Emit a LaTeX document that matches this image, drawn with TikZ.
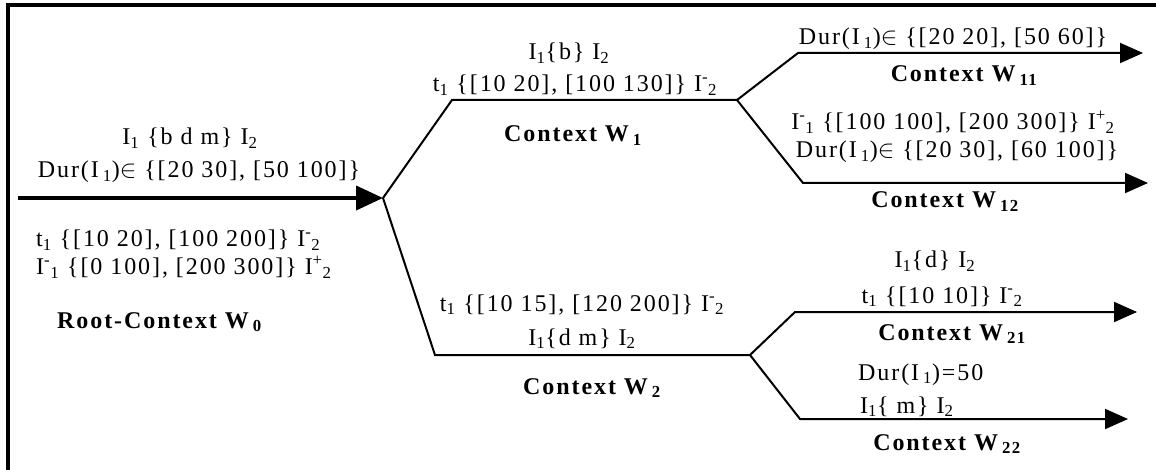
\documentclass[tikz,border=0pt]{standalone}
\usepackage{fontspec}
\setmainfont{Liberation Serif}[LetterSpace=8]
\usetikzlibrary{arrows.meta}
\newcommand{\sbs}[1]{\textsubscript{#1}}
\newcommand{\sps}[1]{\textsuperscript{#1}}
\begin{document}
\begin{tikzpicture}[x=1pt,y=-1pt,
 lbl/.style={font=\fontsize{24}{26}\selectfont, inner sep=0pt, anchor=base},
 ctx/.style={lbl, font=\fontsize{24}{26}\selectfont\bfseries},
 wire/.style={line width=2pt},
 tip/.style={wire, -{Triangle[length=23pt,width=20pt]}},
 roottip/.style={line width=4pt, -{Triangle[length=27pt,width=24pt]}},
 frame/.style={line width=4pt, line join=miter}]
\useasboundingbox (0,0) rectangle (1156,470);
\coordinate (fb) at (8,470);
\coordinate (fc) at (8,5.5);
\coordinate (fr) at (1156,5.5);
\draw[frame] (fb) -- (fc) -- (fr);
% branch points
\coordinate (r0) at (18,198);
\coordinate (b0) at (383,198);
\coordinate (u1) at (452,100);
\coordinate (b1) at (737,100);
\coordinate (d1) at (435,355);
\coordinate (b2) at (750,355);
\coordinate (u11) at (798,53);  \coordinate (e11) at (1143,53);
\coordinate (u12) at (803,183); \coordinate (e12) at (1148,183);
\coordinate (u21) at (795,312); \coordinate (e21) at (1137,312);
\coordinate (u22) at (800,419); \coordinate (e22) at (1128,419);
\draw[roottip] (r0) -- (b0);
\draw[wire] (b0) -- (u1) -- (b1);
\draw[wire] (b0) -- (d1) -- (b2);
\draw[tip] (b1) -- (u11) -- (e11);
\draw[tip] (b1) -- (u12) -- (e12);
\draw[tip] (b2) -- (u21) -- (e21);
\draw[tip] (b2) -- (u22) -- (e22);
% root labels
\node[lbl] (r0a) at (190,145) {I\sbs{1} \{b d m\} I\sbs{2}};
\node[lbl] (r0b) at (199,178) {Dur(I\,\sbs{1})$\in$ \{[20 30], [50 100]\}};
\node[lbl, anchor=base west] (r0c) at (36,247) {t\sbs{1} \{[10 20], [100 200]\} I\sps{-}\sbs{2}};
\node[lbl, anchor=base west] (r0d) at (36,275) {I\sps{-}\sbs{1} \{[0 100], [200 300]\} I\sps{+}\sbs{2}};
\node[ctx, anchor=base west] (w0) at (57,328) {Root-Context W\,\sbs{0}};
% W1
\node[lbl] (w1a) at (569,60) {I\sbs{1}\{b\} I\sbs{2}};
\node[lbl] (w1b) at (575,92) {t\sbs{1} \{[10 20], [100 130]\} I\sps{-}\sbs{2}};
\node[ctx] (w1) at (573,142) {Context W\,\sbs{1}};
% W2
\node[lbl] (w2a) at (582,311) {t\sbs{1} \{[10 15], [120 200]\} I\sps{-}\sbs{2}};
\node[lbl] (w2b) at (582,345) {I\sbs{1}\{d m\} I\sbs{2}};
\node[ctx] (w2) at (592,394) {Context W\,\sbs{2}};
% W11
\node[lbl] (w11a) at (953,45) {Dur(I\,\sbs{1})$\in$ \{[20 20], [50 60]\}};
\node[ctx] (w11) at (964,82) {Context W\,\sbs{11}};
% W12
\node[lbl] (w12a) at (953,130) {I\sps{-}\sbs{1} \{[100 100], [200 300]\} I\sps{+}\sbs{2}};
\node[lbl] (w12b) at (957,158) {Dur(I\,\sbs{1})$\in$ \{[20 30], [60 100]\}};
\node[ctx] (w12) at (945,208) {Context W\,\sbs{12}};
% W21
\node[lbl] (w21a) at (935,268) {I\sbs{1}\{d\} I\sbs{2}};
\node[lbl] (w21b) at (942,303) {t\sbs{1} \{[10 10]\} I\sps{-}\sbs{2}};
\node[ctx] (w21) at (952,340) {Context W\,\sbs{21}};
% W22
\node[lbl, anchor=base west] (w22a) at (858,380) {Dur(I\,\sbs{1})=50};
\node[lbl, anchor=base west] (w22b) at (860,413) {I\sbs{1}\{ m\} I\sbs{2}};
\node[ctx] (w22) at (947,450) {Context W\,\sbs{22}};
\end{tikzpicture}
\end{document}
